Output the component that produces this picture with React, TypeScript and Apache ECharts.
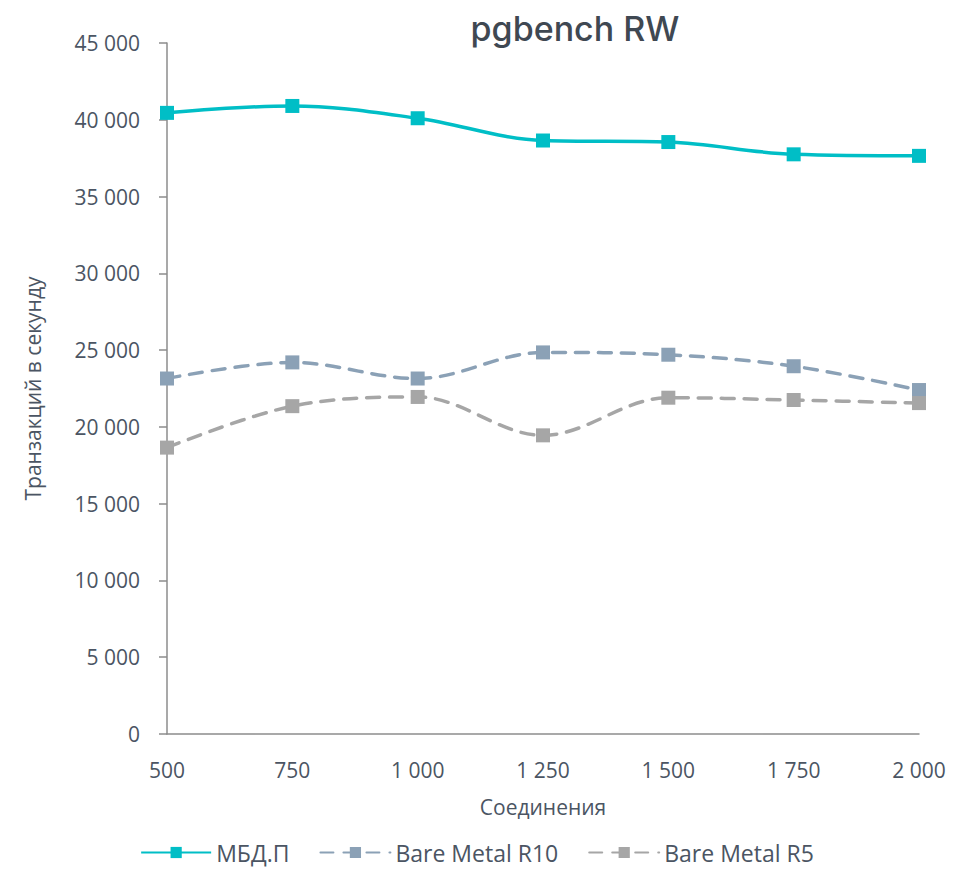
import React, { useEffect, useRef } from "react";
import * as echarts from "echarts";

const categories = ["500", "750", "1 000", "1 250", "1 500", "1 750", "2 000"];
const mbdp = [40450, 40900, 40100, 38650, 38550, 37750, 37650];
const r10 = [23150, 24200, 23150, 24850, 24700, 23950, 22400];
const r5 = [18650, 21350, 21950, 19450, 21900, 21750, 21550];

const textColor = "#4B5563";
const font = "'Open Sans', sans-serif";

export default function App() {
  const ref = useRef<HTMLDivElement>(null);
  useEffect(() => {
    document.body.style.margin = "0";
    if (!ref.current) return;
    const chart = echarts.init(ref.current, null, { renderer: "svg" });
    const fmt = (v: number) => String(v).replace(/\B(?=(\d{3})+(?!\d))/g, " ");
    chart.setOption({
      animation: false,
      title: {
        text: "pgbench RW",
        left: 570,
        textAlign: "center",
        top: 6,
        textStyle: { fontFamily: "Inter, sans-serif", fontSize: 34, fontWeight: 500, color: "#3F4852" },
      },
      grid: { left: 167, right: 35, top: 43, bottom: 135 },
      legend: {
        bottom: 0,
        left: "center",
        itemWidth: 70,
        itemHeight: 14,
        itemGap: 30,
        textStyle: { fontFamily: font, fontSize: 23, color: textColor },
        data: ["МБД.П", "Bare Metal R10", "Bare Metal R5"],
      },
      xAxis: {
        type: "category",
        data: categories,
        boundaryGap: false,
        name: "Соединения",
        nameLocation: "middle",
        nameGap: 62,
        nameTextStyle: { fontFamily: font, fontSize: 21, color: textColor },
        axisLine: { lineStyle: { color: "#8C8C8C", width: 1.5 } },
        axisTick: { show: false },
        axisLabel: { margin: 25, fontFamily: font, fontSize: 21, color: textColor },
      },
      yAxis: {
        type: "value",
        min: 0,
        max: 45000,
        interval: 5000,
        name: "Транзакций в секунду",
        nameLocation: "middle",
        nameGap: 124,
        nameTextStyle: { fontFamily: font, fontSize: 21, color: textColor },
        axisLine: { show: true, lineStyle: { color: "#8C8C8C", width: 1.5 } },
        axisTick: { show: true, length: 8, lineStyle: { color: "#8C8C8C", width: 1.5 } },
        splitLine: { show: false },
        axisLabel: { margin: 27, fontFamily: font, fontSize: 21, color: textColor, formatter: fmt },
      },
      series: [
        {
          name: "МБД.П",
          type: "line",
          data: mbdp,
          smooth: 0.35,
          symbol: "rect",
          symbolSize: 14,
          itemStyle: { color: "#00BEC6" },
          lineStyle: { color: "#00BEC6", width: 3.5 },
        },
        {
          name: "Bare Metal R10",
          type: "line",
          data: r10,
          smooth: 0.35,
          symbol: "rect",
          symbolSize: 14,
          itemStyle: { color: "#8BA1B6" },
          lineStyle: { color: "#8BA1B6", width: 3.5, type: [13, 10], cap: "round" },
        },
        {
          name: "Bare Metal R5",
          type: "line",
          data: r5,
          smooth: 0.35,
          symbol: "rect",
          symbolSize: 14,
          itemStyle: { color: "#A6A6A6" },
          lineStyle: { color: "#A6A6A6", width: 3.5, type: [13, 10], cap: "round" },
        },
      ],
    });
    return () => chart.dispose();
  }, []);
  return <div ref={ref} style={{ width: 954, height: 869 }} />;
}
